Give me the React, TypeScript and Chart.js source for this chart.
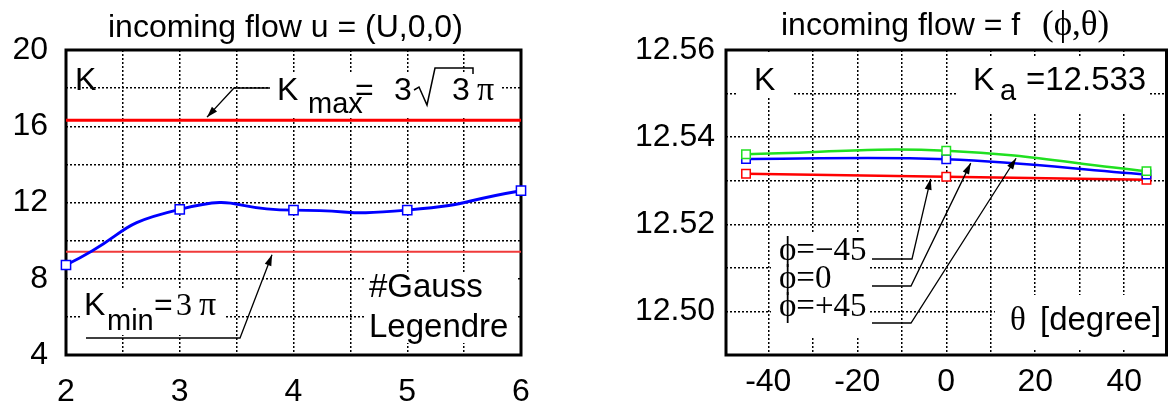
import React, { useEffect, useRef } from 'react';
import { Chart, registerables } from 'chart.js';

Chart.register(...registerables);

const SANS = '"Liberation Sans", Arial, Helvetica, sans-serif';
const SERIF = '"Liberation Serif", "DejaVu Serif", "Times New Roman", serif';

// ---------- left chart data ----------
const GAUSS_POINTS = [2, 3, 4, 5, 6];
const K_GAUSS = [8.72, 11.64, 11.6, 11.6, 12.62];
const K_MAX = 16.32; // 3·√3·π
const K_MIN = 9.42; // 3·π
const LEFT_X_GRID = [2, 2.5, 3, 3.5, 4, 4.5, 5, 5.5, 6];
const LEFT_X_LABELS = [2, 3, 4, 5, 6];
const LEFT_Y_GRID = [4, 6, 8, 10, 12, 14, 16, 18, 20];
const LEFT_Y_LABELS = [4, 8, 12, 16, 20];

// ---------- right chart data ----------
const THETA = [-45, 0, 45];
const K_PHI_P45 = [12.5361, 12.5369, 12.5322]; // green
const K_PHI_0 = [12.535, 12.5349, 12.5314]; // blue
const K_PHI_M45 = [12.5316, 12.5309, 12.5302]; // red
const RIGHT_X_GRID = [-40, -30, -20, -10, 0, 10, 20, 30, 40];
const RIGHT_X_LABELS = [-40, -20, 0, 20, 40];
const RIGHT_Y_GRID = [12.5, 12.51, 12.52, 12.53, 12.54, 12.55, 12.56];
const RIGHT_Y_LABELS = [12.5, 12.52, 12.54, 12.56];

const LEFT_W = 560;
const RIGHT_X0 = 560;
const RIGHT_W = 614;
const H = 408;

const near = (list: number[], v: number) => list.some((l) => Math.abs(l - v) < 1e-9);

function arrow(ctx: CanvasRenderingContext2D, pts: [number, number][]) {
  ctx.save();
  ctx.strokeStyle = '#000';
  ctx.fillStyle = '#000';
  ctx.lineWidth = 1.3;
  ctx.setLineDash([]);
  ctx.beginPath();
  ctx.moveTo(pts[0][0], pts[0][1]);
  for (let i = 1; i < pts.length; i++) ctx.lineTo(pts[i][0], pts[i][1]);
  ctx.stroke();
  const [x1, y1] = pts[pts.length - 2];
  const [x2, y2] = pts[pts.length - 1];
  const a = Math.atan2(y2 - y1, x2 - x1);
  const L = 11;
  const W = 3.5;
  const c = Math.cos(a);
  const s = Math.sin(a);
  ctx.beginPath();
  ctx.moveTo(x2, y2);
  ctx.lineTo(x2 - L * c + W * s, y2 - L * s - W * c);
  ctx.lineTo(x2 - L * c - W * s, y2 - L * s + W * c);
  ctx.closePath();
  ctx.fill();
  ctx.restore();
}

function txt(
  ctx: CanvasRenderingContext2D,
  s: string,
  x: number,
  y: number,
  size: number,
  family = SANS,
  align: CanvasTextAlign = 'left'
) {
  ctx.font = `${size}px ${family}`;
  ctx.fillStyle = '#000';
  ctx.textAlign = align;
  ctx.textBaseline = 'alphabetic';
  ctx.fillText(s, x, y);
}

function framePlugin(boxes: [number, number, number, number][]) {
  return {
    id: 'frameAndBoxes',
    beforeDatasetsDraw(chart: any) {
      const { ctx, chartArea: ca } = chart;
      ctx.save();
      ctx.fillStyle = '#fff';
      boxes.forEach(([x, y, w, h]) => ctx.fillRect(x, y, w, h));
      ctx.strokeStyle = '#000';
      ctx.lineWidth = 3;
      ctx.setLineDash([]);
      ctx.strokeRect(ca.left, ca.top, ca.right - ca.left, ca.bottom - ca.top);
      ctx.restore();
    },
  };
}

const gridOpts = { color: '#000', lineWidth: 1.5, drawTicks: false };
const borderOpts = { display: false, dash: [2, 2] };

export default function App() {
  const leftRef = useRef<HTMLCanvasElement>(null);
  const rightRef = useRef<HTMLCanvasElement>(null);

  useEffect(() => {
    document.body.style.margin = '0';

    // ---------------- LEFT CHART ----------------
    const leftAnno = {
      id: 'leftAnno',
      afterDraw(chart: any) {
        const { ctx, scales } = chart;
        const py = (v: number) => scales.y.getPixelForValue(v);
        ctx.save();
        txt(ctx, 'incoming flow u = (U,0,0)', 108, 37, 32);
        txt(ctx, 'K', 75, 90, 32);
        // K_max label
        txt(ctx, 'K', 277, 100, 32);
        txt(ctx, 'max', 308, 113, 29);
        txt(ctx, '=', 355, 100, 32);
        txt(ctx, '3', 394, 100, 32);
        ctx.strokeStyle = '#000';
        ctx.lineWidth = 1.5;
        ctx.beginPath();
        ctx.moveTo(414, 90);
        ctx.lineTo(419, 87);
        ctx.lineTo(427, 105);
        ctx.lineTo(435, 68);
        ctx.lineTo(473, 68);
        ctx.lineTo(473, 74);
        ctx.stroke();
        txt(ctx, '3', 452, 100, 32);
        txt(ctx, 'π', 477, 100, 34, SERIF);
        arrow(ctx, [
          [270, 88],
          [234, 88],
          [207, py(K_MAX) - 3],
        ]);
        // K_min label
        txt(ctx, 'K', 84, 315, 32);
        txt(ctx, 'min', 107, 330, 29);
        txt(ctx, '=', 154, 315, 32);
        txt(ctx, '3', 176, 315, 32, SERIF);
        txt(ctx, 'π', 199, 315, 34, SERIF);
        arrow(ctx, [
          [86, 338],
          [240, 338],
          [272, py(K_MIN) + 3],
        ]);
        txt(ctx, '#Gauss', 369, 297, 33);
        txt(ctx, 'Legendre', 369, 337, 33);
        ctx.restore();
      },
    };

    const leftChart = new Chart(leftRef.current!, {
      type: 'line',
      data: {
        datasets: [
          {
            data: GAUSS_POINTS.map((x, i) => ({ x, y: K_GAUSS[i] })),
            borderColor: '#0000ff',
            borderWidth: 3,
            tension: 0.6,
            pointStyle: 'rect',
            pointRadius: 6.5,
            pointBorderWidth: 1.5,
            pointBorderColor: '#0000ff',
            pointBackgroundColor: '#ffffff',
            clip: false as any,
          },
          {
            data: [
              { x: 2, y: K_MAX },
              { x: 6, y: K_MAX },
            ],
            borderColor: '#ff0000',
            borderWidth: 3,
            pointRadius: 0,
          },
          {
            data: [
              { x: 2, y: K_MIN },
              { x: 6, y: K_MIN },
            ],
            borderColor: '#f03a3a',
            borderWidth: 2,
            pointRadius: 0,
          },
        ],
      },
      options: {
        responsive: false,
        animation: false,
        events: [],
        layout: { padding: { left: 0, top: 50, right: LEFT_W - 521, bottom: 0 } },
        plugins: { legend: { display: false }, tooltip: { enabled: false }, title: { display: false } },
        scales: {
          x: {
            type: 'linear',
            min: 2,
            max: 6,
            afterBuildTicks: (s: any) => {
              s.ticks = LEFT_X_GRID.map((value) => ({ value }));
            },
            afterFit: (s: any) => {
              s.height = 53;
            },
            grid: gridOpts,
            border: borderOpts,
            ticks: {
              autoSkip: false,
              maxRotation: 0,
              padding: 18,
              color: '#000',
              font: { family: SANS, size: 32 },
              callback: (v: any) => (near(LEFT_X_LABELS, Number(v)) ? String(v) : ''),
            },
          },
          y: {
            type: 'linear',
            min: 4,
            max: 20,
            afterBuildTicks: (s: any) => {
              s.ticks = LEFT_Y_GRID.map((value) => ({ value }));
            },
            afterFit: (s: any) => {
              s.width = 66;
            },
            grid: gridOpts,
            border: borderOpts,
            ticks: {
              autoSkip: false,
              padding: 18,
              color: '#000',
              font: { family: SANS, size: 32 },
              callback: (v: any) => (near(LEFT_Y_LABELS, Number(v)) ? String(v) : ''),
            },
          },
        },
      } as any,
      plugins: [
        framePlugin([
          [270, 73, 230, 43],
          [82, 288, 143, 47],
          [366, 272, 150, 71],
        ]),
        leftAnno,
      ],
    });

    // ---------------- RIGHT CHART ----------------
    const o = RIGHT_X0;
    const rightAnno = {
      id: 'rightAnno',
      afterDraw(chart: any) {
        const { ctx, scales } = chart;
        const px = (v: number) => scales.x.getPixelForValue(v);
        const py = (v: number) => scales.y.getPixelForValue(v);
        ctx.save();
        txt(ctx, 'incoming flow = f', 781 - o, 35, 32);
        txt(ctx, '(ϕ,θ)', 1042 - o, 35, 35, SERIF);
        txt(ctx, 'K', 754 - o, 90, 32);
        txt(ctx, 'K', 973 - o, 90, 32);
        txt(ctx, 'a', 1000 - o, 100, 29);
        txt(ctx, '=12.533', 1026 - o, 90, 33);
        txt(ctx, 'ϕ=−45', 779 - o, 260, 33, SERIF);
        txt(ctx, 'ϕ=0', 779 - o, 288, 33, SERIF);
        txt(ctx, 'ϕ=+45', 779 - o, 316, 33, SERIF);
        arrow(ctx, [
          [872 - o, 259],
          [912 - o, 259],
          [px(-3.5), py(K_PHI_M45[1]) + 2],
        ]);
        arrow(ctx, [
          [872 - o, 286],
          [911 - o, 286],
          [px(5.5), py(12.5345) + 2],
        ]);
        arrow(ctx, [
          [872 - o, 323],
          [911 - o, 323],
          [px(15.7), py(12.5355) + 1.5],
        ]);
        txt(ctx, 'θ', 1010 - o, 330, 33, SERIF);
        txt(ctx, '[degree]', 1040 - o, 330, 33);
        ctx.restore();
      },
    };

    const mk = (vals: number[], color: string) => ({
      data: THETA.map((x, i) => ({ x, y: vals[i] })),
      borderColor: color,
      borderWidth: 2.5,
      tension: 0.4,
      pointStyle: 'rect',
      pointRadius: 6,
      pointBorderWidth: 1.5,
      pointBorderColor: color,
      pointBackgroundColor: '#ffffff',
      clip: false as any,
    });

    const rightChart = new Chart(rightRef.current!, {
      type: 'line',
      data: {
        datasets: [mk(K_PHI_P45, '#20e020'), mk(K_PHI_0, '#0000ff'), mk(K_PHI_M45, '#ff0000')],
      },
      options: {
        responsive: false,
        animation: false,
        events: [],
        layout: { padding: { left: 0, top: 50, right: RIGHT_W - (1171 - o), bottom: 0 } },
        plugins: { legend: { display: false }, tooltip: { enabled: false }, title: { display: false } },
        scales: {
          x: {
            type: 'linear',
            min: -49.5,
            max: 49.5,
            afterBuildTicks: (s: any) => {
              s.ticks = RIGHT_X_GRID.map((value) => ({ value }));
            },
            afterFit: (s: any) => {
              s.height = 53;
            },
            grid: gridOpts,
            border: borderOpts,
            ticks: {
              autoSkip: false,
              maxRotation: 0,
              padding: 8,
              color: '#000',
              font: { family: SANS, size: 32 },
              callback: (v: any) => (near(RIGHT_X_LABELS, Number(v)) ? String(v) : ''),
            },
          },
          y: {
            type: 'linear',
            min: 12.49,
            max: 12.56,
            afterBuildTicks: (s: any) => {
              s.ticks = RIGHT_Y_GRID.map((value) => ({ value }));
            },
            afterFit: (s: any) => {
              s.width = 726 - o;
            },
            grid: gridOpts,
            border: borderOpts,
            ticks: {
              autoSkip: false,
              padding: 11,
              color: '#000',
              font: { family: SANS, size: 32 },
              callback: (v: any) => (near(RIGHT_Y_LABELS, Number(v)) ? Number(v).toFixed(2) : ''),
            },
          },
        },
      } as any,
      plugins: [
        framePlugin([
          [738 - o, 52, 54, 46],
          [958 - o, 58, 192, 55],
          [771 - o, 233, 99, 104],
          [995 - o, 295, 174, 55],
        ]),
        rightAnno,
      ],
    });

    return () => {
      leftChart.destroy();
      rightChart.destroy();
    };
  }, []);

  return (
    <div style={{ position: 'fixed', left: 0, top: 0, width: 1174, height: H, background: '#fff' }}>
      <canvas
        ref={leftRef}
        width={LEFT_W}
        height={H}
        style={{ position: 'absolute', left: 0, top: 0, width: LEFT_W, height: H }}
      />
      <canvas
        ref={rightRef}
        width={RIGHT_W}
        height={H}
        style={{ position: 'absolute', left: RIGHT_X0, top: 0, width: RIGHT_W, height: H }}
      />
    </div>
  );
}
